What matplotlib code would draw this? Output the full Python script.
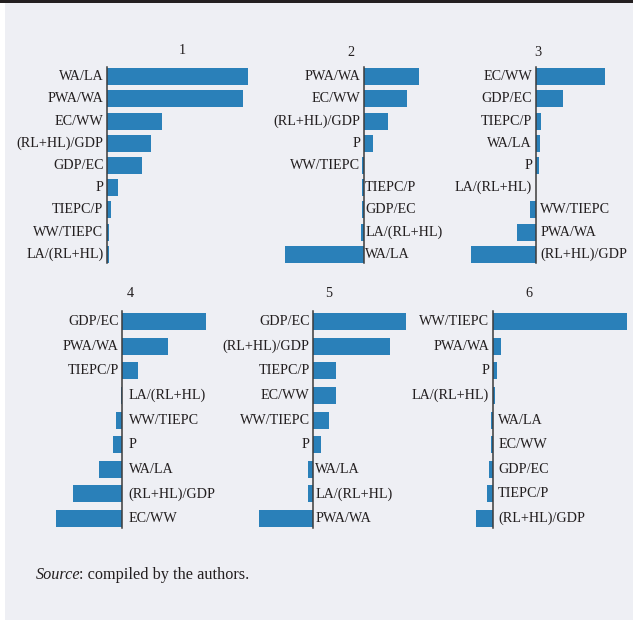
import matplotlib.pyplot as plt
from matplotlib.patches import Rectangle

# ---------------- data (bar lengths, arbitrary units) ----------------
labels_1 = ['WA/LA', 'PWA/WA', 'EC/WW', '(RL+HL)/GDP', 'GDP/EC', 'P', 'TIEPC/P', 'WW/TIEPC', 'LA/(RL+HL)']
values_1 = [141, 136, 55, 44, 35, 11, 4, 2, 2]

labels_2 = ['PWA/WA', 'EC/WW', '(RL+HL)/GDP', 'P', 'WW/TIEPC', 'TIEPC/P', 'GDP/EC', 'LA/(RL+HL)', 'WA/LA']
values_2 = [55, 43, 24, 9, -1.5, -1.7, -1.7, -3, -79]

labels_3 = ['EC/WW', 'GDP/EC', 'TIEPC/P', 'WA/LA', 'P', 'LA/(RL+HL)', 'WW/TIEPC', 'PWA/WA', '(RL+HL)/GDP']
values_3 = [69, 27, 5.3, 4.3, 3.3, 0.5, -5.7, -18.7, -64.7]

labels_4 = ['GDP/EC', 'PWA/WA', 'TIEPC/P', 'LA/(RL+HL)', 'WW/TIEPC', 'P', 'WA/LA', '(RL+HL)/GDP', 'EC/WW']
values_4 = [83.7, 45.7, 15.7, -1.3, -6.3, -9.3, -23.3, -49.3, -66.3]

labels_5 = ['GDP/EC', '(RL+HL)/GDP', 'TIEPC/P', 'EC/WW', 'WW/TIEPC', 'P', 'WA/LA', 'LA/(RL+HL)', 'PWA/WA']
values_5 = [92.7, 76.7, 22.7, 22.7, 15.7, 7.7, -5.3, -5.3, -54.3]

labels_6 = ['WW/TIEPC', 'PWA/WA', 'P', 'LA/(RL+HL)', 'WA/LA', 'EC/WW', 'GDP/EC', 'TIEPC/P', '(RL+HL)/GDP']
values_6 = [134.3, 8.3, 4.3, 2.3, -1.7, -1.7, -3.7, -5.7, -16.7]

titles = ['1', '2', '3', '4', '5', '6']
# how many labels sit left of the zero line in each panel
n_left = [9, 5, 6, 3, 6, 4]

source_text = ': compiled by the authors.'

# ---------------- layout (pixels) ----------------
W, H = 633, 620
BG = '#eeeff4'
BAR = '#2a80b9'
INK = '#231f20'
FONT = 'Liberation Serif'
FS = 10.2

panels = [
    # zero-line x, left px, right px, top px, bottom px, title x, title y, right pad
    (107.0, 5, 260, 65.4, 265.6, 182, 50, 3),
    (363.7, 270, 450, 65.4, 265.6, 351, 52, 1.5),
    (535.7, 455, 633, 65.4, 265.6, 538, 52, 4.5),
    (122.3, 40, 220, 309.4, 530.8, 130, 293, 6.5),
    (313.3, 230, 415, 309.4, 530.8, 329, 293, 2),
    (492.7, 415, 633, 309.4, 530.8, 529, 293, 5.5),
]
all_labels = [labels_1, labels_2, labels_3, labels_4, labels_5, labels_6]
all_values = [values_1, values_2, values_3, values_4, values_5, values_6]

fig = plt.figure(figsize=(W / 100, H / 100), dpi=100)
fig.patch.set_facecolor('white')

# grey box with dark rule on top
fig.patches.append(Rectangle((5 / W, 0), 1 - 5 / W, 1 - 2 / H, transform=fig.transFigure,
                             facecolor=BG, edgecolor='none', zorder=-5))
fig.patches.append(Rectangle((0, 1 - 2.5 / H), 1, 2.5 / H, transform=fig.transFigure,
                             facecolor=INK, edgecolor='none', zorder=-5))

for k in range(6):
    x0, left, right, top, bottom, tx, ty, rpad = panels[k]
    labs = all_labels[k]
    vals = all_values[k]
    n = len(labs)
    ax = fig.add_axes([left / W, 1 - bottom / H, (right - left) / W, (bottom - top) / H])
    ax.set_zorder(2)
    ax.set_xlim(left - x0, right - x0)
    ax.set_ylim(n - 0.5, -0.5)
    slot = (bottom - top) / n
    ax.barh(range(n), vals, height=17 / slot, color=BAR, zorder=2)
    ax.plot([0, 0], [n - 0.5 - 2.5 / slot, -0.5 + 2 / slot], color='#3c3c3c', lw=1.1, zorder=3)
    for i, (lab, v) in enumerate(zip(labs, vals)):
        if i < n_left[k]:
            ax.text(-3.5, i, lab, ha='right', va='center', fontsize=FS,
                    family=FONT, color=INK, clip_on=False)
        else:
            ax.text(rpad, i, lab, ha='left', va='center', fontsize=FS,
                    family=FONT, color=INK, clip_on=False)
    ax.axis('off')
    fig.text(tx / W, 1 - ty / H, titles[k], ha='center', va='center',
             fontsize=FS, family=FONT, color=INK)

src = fig.text(36 / W, 1 - 579 / H, 'Source', ha='left', va='baseline', fontsize=11.7,
               family=FONT, style='italic', color=INK)
fig.canvas.draw()
bb = src.get_window_extent()
fig.text((bb.x1 - 2) / W, 1 - 579 / H, source_text, ha='left', va='baseline', fontsize=11.7,
         family=FONT, color=INK)

fig.savefig('out.png', dpi=100, facecolor=fig.get_facecolor())
